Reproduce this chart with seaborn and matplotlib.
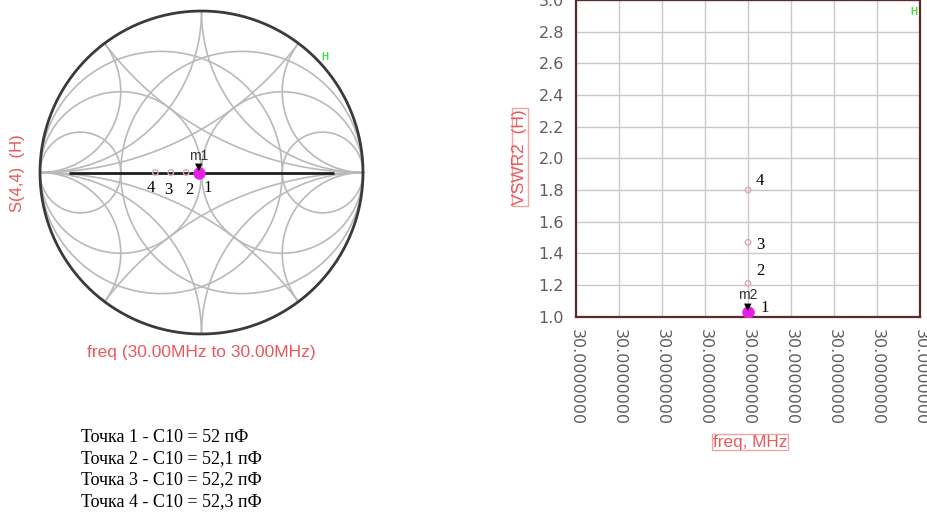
import numpy as np
import pandas as pd
import matplotlib
matplotlib.use("Agg")
import matplotlib.pyplot as plt
from matplotlib.ticker import FixedLocator, FuncFormatter, AutoMinorLocator
import seaborn as sns

# Trimmer capacitor C10 settings and the measured match at 30 MHz
point_ids = ["1", "2", "3", "4"]
c10_pf = ["52", "52,1", "52,2", "52,3"]
freq_mhz = [30.0, 30.0, 30.0, 30.0]
vswr = [1.03, 1.21, 1.47, 1.80]

# Smith chart grid (normalized resistance / reactance)
r_circles = [1 / 3, 1.0, 3.0]
x_arcs = [0.5, 1.0, 2.0]

# VSWR axis
vswr_ticks = [1.0, 1.2, 1.4, 1.6, 1.8, 2.0, 2.2, 2.4, 2.6, 2.8, 3.0]
freq_ticks_rel = [-4, -3, -2, -1, 0, 1, 2, 3, 4]   # steps of 1e-8 MHz around 30 MHz

sns.set_style("white")
plt.rcParams["font.family"] = ["Liberation Sans", "DejaVu Sans"]

df = pd.DataFrame({"point": point_ids, "c10": c10_pf, "freq": freq_mhz, "vswr": vswr})
# reflection coefficient (real, load below Z0)
df["gamma"] = -(df["vswr"] - 1) / (df["vswr"] + 1)
df["im"] = 0.0

LABEL_RED = "#e8585c"
GRID_GRAY = "#b9b9b9"
PINK = "#dba6bd"
MAGENTA = "#e61ee6"

fig = plt.figure(figsize=(9.28, 5.24), dpi=100)

# ---------------- Smith chart ----------------
cx, cy, rad = 201.5, 172.5, 161.5
lim = 1.02
side = 2 * rad * lim
ax1 = fig.add_axes([(cx - rad * lim) / 928, (524 - (cy + rad * lim)) / 524, side / 928, side / 524])
ax1.set_axis_off()


def z_to_gamma(z):
    return (z - 1) / (z + 1)


t = np.linspace(-np.pi / 2 + 1e-5, np.pi / 2 - 1e-5, 1500)
span = np.tan(t)
for r in r_circles:
    g = z_to_gamma(r + 1j * span)
    for sgn in (1, -1):  # impedance and admittance families
        ax1.plot(sgn * g.real, sgn * g.imag, color=GRID_GRAY, lw=1.2, zorder=1)
rr = np.concatenate([[0.0], np.logspace(-4, 5, 1500)])
for xv in x_arcs:
    for sx in (xv, -xv):
        g = z_to_gamma(rr + 1j * sx)
        for sgn in (1, -1):
            ax1.plot(sgn * g.real, sgn * g.imag, color=GRID_GRAY, lw=1.2, zorder=1)

th = np.linspace(0, 2 * np.pi, 600)
ax1.plot(np.cos(th), np.sin(th), color="#3a3a3a", lw=2.0, zorder=2)
ax1.plot([-0.815, 0.815], [0, 0], color="#1e1e1e", lw=2.0, zorder=2)

sns.scatterplot(data=df.iloc[1:], x="gamma", y="im", ax=ax1, marker="o", s=16,
                facecolor="none", edgecolor=PINK, linewidth=1.0, zorder=4, legend=False)
sns.scatterplot(data=df.iloc[:1], x="gamma", y="im", ax=ax1, marker="o", s=70,
                color=MAGENTA, edgecolor=MAGENTA, linewidth=0.5, zorder=5, legend=False)
ax1.set_xlim(-lim, lim)
ax1.set_ylim(-lim, lim)
ax1.set_xlabel("")
ax1.set_ylabel("")

smith_offsets = {"1": (9, -15), "2": (3, -17), "3": (-2, -18), "4": (-5, -15)}
for _, row in df.iterrows():
    dx, dy = smith_offsets[row["point"]]
    ax1.annotate(row["point"], (row["gamma"], row["im"]), xytext=(dx, dy),
                 textcoords="offset pixels", ha="center", va="center",
                 fontsize=12, family="Liberation Serif", color="black", zorder=6)
m = df.iloc[0]
ax1.annotate("▼", (m["gamma"], m["im"]), xytext=(0, 6), textcoords="offset pixels",
             ha="center", va="center", fontsize=7, color="black", family="DejaVu Sans", zorder=7)
ax1.annotate("m1", (m["gamma"], m["im"]), xytext=(0, 17), textcoords="offset pixels",
             ha="center", va="center", fontsize=10, color="#333333", zorder=7)

fig.text(18 / 928, 1 - 173 / 524, "S(4,4)  (H)", rotation=90, ha="center", va="center",
         fontsize=12, color=LABEL_RED)
fig.text(201 / 928, 1 - 353 / 524, "freq (30.00MHz to 30.00MHz)", ha="center", va="center",
         fontsize=12.5, color=LABEL_RED)
fig.text(325 / 928, 1 - 57 / 524, "H", ha="center", va="center", fontsize=7,
         color="#3fdc3f", fontweight="bold")

# ---------------- VSWR plot ----------------
ax2 = fig.add_axes([576 / 928, (524 - 316.7) / 524, 344 / 928, 316.7 / 524])
sns.scatterplot(data=df.iloc[1:], x="freq", y="vswr", ax=ax2, marker="o", s=16,
                facecolor="none", edgecolor=PINK, linewidth=1.0, zorder=4, legend=False)
sns.scatterplot(data=df.iloc[:1], x="freq", y="vswr", ax=ax2, marker="o", s=70,
                color=MAGENTA, edgecolor=MAGENTA, linewidth=0.5, zorder=5, legend=False)

f0 = 30.0
xticks = [f0 + k * 1e-8 for k in freq_ticks_rel]
ax2.set_xlim(xticks[0], xticks[-1])
ax2.set_ylim(vswr_ticks[0], vswr_ticks[-1])
ax2.xaxis.set_major_locator(FixedLocator(xticks))
ax2.xaxis.set_major_formatter(FuncFormatter(lambda v, p: f"{v:.7f}"))
ax2.xaxis.set_minor_locator(AutoMinorLocator(5))
ax2.yaxis.set_major_locator(FixedLocator(vswr_ticks))
ax2.yaxis.set_major_formatter(FuncFormatter(lambda v, p: f"{v:.1f}"))
ax2.yaxis.set_minor_locator(AutoMinorLocator(2))
ax2.grid(True, which="major", color="#cfc6c6", lw=1.0)
ax2.set_axisbelow(True)
for s in ax2.spines.values():
    s.set_color("#5a2c2c")
    s.set_linewidth(1.6)
ax2.tick_params(axis="both", which="major", length=7, width=1.3, color="#5a2c2c",
                labelcolor="#5e5e5e", labelsize=11.5, pad=1.5)
ax2.tick_params(axis="both", which="minor", length=4, width=1.0, color="#5a2c2c")
ax2.tick_params(axis="x", which="major", labelrotation=-90, pad=2)
for lab in ax2.get_xticklabels() + ax2.get_yticklabels():
    lab.set_family("DejaVu Sans")
ax2.set_xlabel("")
ax2.set_ylabel("")

vswr_offsets = {"1": (17, 4), "2": (12, 12), "3": (12, -3), "4": (12, 9)}
for _, row in df.iterrows():
    dx, dy = vswr_offsets[row["point"]]
    ax2.annotate(row["point"], (row["freq"], row["vswr"]), xytext=(dx, dy),
                 textcoords="offset pixels", ha="center", va="center",
                 fontsize=12, family="Liberation Serif", color="black", zorder=6)
ax2.annotate("▼", (m["freq"], m["vswr"]), xytext=(0, 5), textcoords="offset pixels",
             ha="center", va="center", fontsize=7, color="black", family="DejaVu Sans", zorder=7)
ax2.annotate("m2", (m["freq"], m["vswr"]), xytext=(0, 17), textcoords="offset pixels",
             ha="center", va="center", fontsize=10, color="#333333", zorder=7)

box = dict(boxstyle="square,pad=0.05", fc="none", ec="#f2a4a4", lw=1.0)
fig.text(520 / 928, 1 - 157 / 524, "VSWR2  (H)", rotation=90, ha="center", va="center",
         fontsize=12.5, color=LABEL_RED, bbox=box)
fig.text(750 / 928, 1 - 442 / 524, "freq, MHz", ha="center", va="center",
         fontsize=12.3, color=LABEL_RED, bbox=box)
fig.text(914 / 928, 1 - 12 / 524, "H", ha="center", va="center", fontsize=7,
         color="#3fdc3f", fontweight="bold")

# ---------------- capacitor notes ----------------
for i, (pid, c) in enumerate(zip(point_ids, c10_pf)):
    fig.text(81 / 928, 1 - (437 + i * 21.5) / 524, f"Точка {pid} - C10 = {c} пФ",
             ha="left", va="center", fontsize=13, family="Liberation Serif", color="black")

fig.savefig("out.png", dpi=100)
